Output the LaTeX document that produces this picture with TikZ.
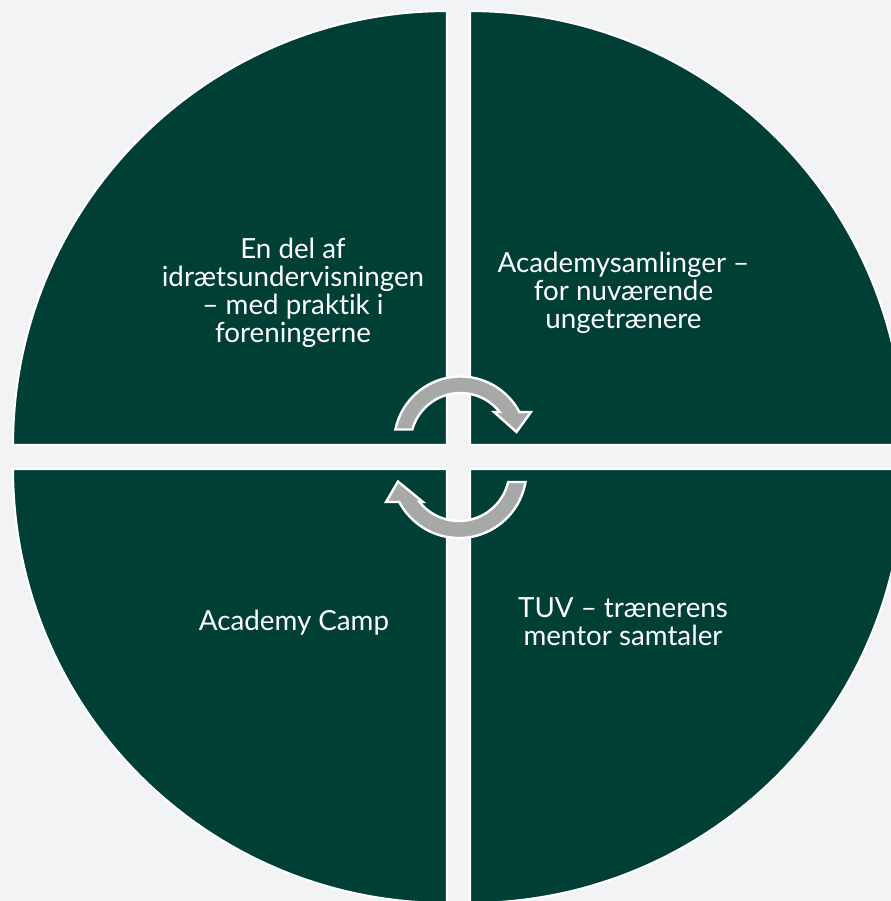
\documentclass[tikz,border=0pt]{standalone}
\usepackage{fontspec}
\setmainfont{Lato}[Ligatures={NoCommon,NoRare}]
\definecolor{bg}{HTML}{F2F3F5}
\definecolor{deepgreen}{HTML}{003F36}
\definecolor{arrowgray}{HTML}{A6A9A7}
\begin{document}
\begin{tikzpicture}[x=0.75pt,y=-0.75pt,
  quadrant/.style={fill=deepgreen, draw=white, line width=1.6pt},
  cyclearrow/.style={fill=arrowgray, draw=white, line width=1.8pt, line join=miter},
  label/.style={text=white, align=center, font=\fontsize{20.8}{21}\selectfont, inner sep=0pt}]
\path[use as bounding box, fill=bg] (0,0) rectangle (891,901);
\clip (0,0) rectangle (891,901);
% quadrants
\path[quadrant] (447,445) -- (13,445) arc[start angle=180,end angle=270,radius=434] -- cycle;
\path[quadrant] (470,445) -- (470,11) arc[start angle=270,end angle=360,radius=434] -- cycle;
\path[quadrant] (447,469) -- (447,903) arc[start angle=90,end angle=180,radius=434] -- cycle;
\path[quadrant] (470,469) -- (904,469) arc[start angle=0,end angle=90,radius=434] -- cycle;
% cycle arrows
\path[cyclearrow] (395.4,429.5) arc[start angle=191.7,end angle=332.3,radius=66.5]
  -- (531,412) -- (516.5,432) -- (494,412) -- (499.7,412)
  arc[start angle=321.7,end angle=195.7,radius=50] -- cycle;
\path[cyclearrow] (525.5,482) arc[start angle=9.8,end angle=152.2,radius=67.5]
  -- (386,502) -- (398,481.5) -- (423,502) -- (419.5,502)
  arc[start angle=141.4,end angle=13.2,radius=50.5] -- cycle;
% labels
\node[label] (tl) at (293,293) {En del af\\idrætsundervisningen\\– med praktik i\\foreningerne};
\node[label] (tr) at (623.5,293) {Academysamlinger –\\for nuværende\\ungetrænere};
\node[label] (bl) at (294,623) {Academy Camp};
\node[label] (br) at (623,622) {TUV – trænerens\\mentor samtaler};
\end{tikzpicture}
\end{document}
